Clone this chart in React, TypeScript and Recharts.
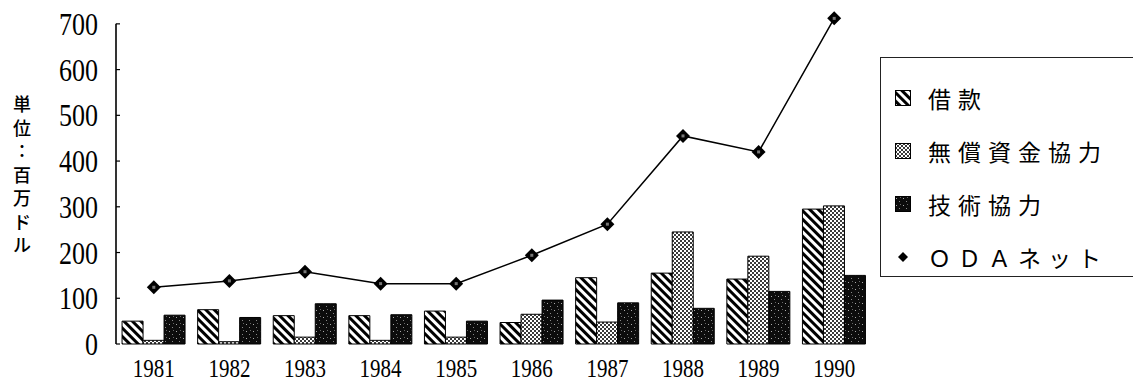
import React from "react"
import { ComposedChart, Bar, Line, XAxis, YAxis, ReferenceLine } from "recharts"

// 年度別 ODA 実績（単位：百万ドル）
const years = ["1981", "1982", "1983", "1984", "1985", "1986", "1987", "1988", "1989", "1990"]
const loans = [50, 75, 62, 62, 72, 47, 145, 155, 142, 295]
const grants = [8, 5, 15, 8, 15, 65, 48, 245, 192, 302]
const techCoop = [63, 58, 88, 64, 50, 96, 90, 78, 115, 150]
const odaNet = [124, 138, 158, 132, 132, 194, 262, 455, 420, 712]
const yTicks = [0, 100, 200, 300, 400, 500, 600, 700]
const unitLabel = ["単", "位", "：", "百", "万", "ド", "ル"]

const series = [
    { key: "loans", name: "借款", fill: "url(#pat-loans)" },
    { key: "grants", name: "無償資金協力", fill: "url(#pat-grants)" },
    { key: "tech", name: "技術協力", fill: "url(#pat-tech)" },
]
const lineName = "ＯＤＡネット"

const data = years.map((year, i) => ({
    year,
    loans: loans[i],
    grants: grants[i],
    tech: techCoop[i],
    oda: odaNet[i],
}))

const serif = "'Liberation Serif', 'DejaVu Serif', serif"
const jp = "'Noto Sans CJK JP', sans-serif"

function Patterns() {
    return (
        <svg width={0} height={0} style={{ position: "absolute" }}>
            <defs>
                <pattern id="pat-loans" width="6" height="6" patternUnits="userSpaceOnUse" patternTransform="rotate(45)">
                    <rect width="6" height="6" fill="#fff" />
                    <rect width="6" height="3" fill="#000" />
                </pattern>
                <pattern id="pat-grants" width="4" height="4" patternUnits="userSpaceOnUse">
                    <rect width="4" height="4" fill="#fff" />
                    <rect x="0" y="0" width="2" height="2" fill="#3a3a3a" />
                    <rect x="2" y="2" width="2" height="2" fill="#3a3a3a" />
                </pattern>
                <pattern id="pat-tech" width="7" height="7" patternUnits="userSpaceOnUse">
                    <rect width="7" height="7" fill="#0c0c0c" />
                    <rect x="1" y="2" width="1" height="1" fill="#aaa" />
                    <rect x="4" y="5" width="1" height="1" fill="#888" />
                    <rect x="5" y="1" width="1" height="1" fill="#666" />
                </pattern>
            </defs>
        </svg>
    )
}

const Diamond = (props: any) => {
    const { cx, cy, index } = props
    if (cx == null || cy == null) return <g key={index} />
    const r = 7
    return (
        <g key={index}>
            <polygon points={`${cx},${cy - r} ${cx + r},${cy} ${cx},${cy + r} ${cx - r},${cy}`} fill="#000" />
            <rect x={cx - 1.5} y={cy - 1.5} width={3} height={3} fill="#777" />
        </g>
    )
}

const YTick = ({ x, y, payload }: any) => (
    <g>
        <line x1={x + 18} x2={x + 22} y1={y} y2={y} stroke="#000" strokeWidth={1.2} />
        <text
            transform={`translate(${x},${y + 11}) scale(1,1.25)`}
            textAnchor="end"
            style={{ fontFamily: serif, fontSize: 26 }}
            fill="#000"
        >
            {payload.value}
        </text>
    </g>
)

const XTick = ({ x, y, payload }: any) => (
    <text
        transform={`translate(${x},${y + 33}) scale(1,1.2)`}
        textAnchor="middle"
        style={{ fontFamily: serif, fontSize: 21 }}
        fill="#000"
    >
        {payload.value}
    </text>
)

function LegendBox() {
    const rows = [
        ...series.map((s) => ({ label: s.name, swatch: <rect x={0.5} y={0.5} width={15} height={15} fill={s.fill} stroke="#000" /> })),
        { label: lineName, swatch: <polygon points="8,3 13,8 8,13 3,8" fill="#000" /> },
    ]
    return (
        <div
            style={{
                position: "absolute",
                left: 880,
                top: 57,
                width: 270,
                height: 220,
                boxSizing: "border-box",
                border: "1px solid #222",
                paddingTop: 13,
                paddingLeft: 14,
                fontFamily: jp,
                fontSize: 23,
                color: "#000",
            }}
        >
            {rows.map((r) => (
                <div key={r.label} style={{ height: 53, display: "flex", alignItems: "center" }}>
                    <svg width={16} height={16}>{r.swatch}</svg>
                    <span style={{ marginLeft: 17, letterSpacing: 7 }}>{r.label}</span>
                </div>
            ))}
        </div>
    )
}

export default function App() {
    return (
        <div style={{ position: "absolute", left: 0, top: 0, width: 1133, height: 384, background: "#fff", overflow: "hidden" }}>
            <Patterns />
            <div
                style={{
                    position: "absolute",
                    left: 12,
                    top: 92,
                    width: 20,
                    display: "flex",
                    flexDirection: "column",
                    alignItems: "center",
                    fontFamily: jp,
                    fontSize: 18,
                    lineHeight: "23.5px",
                    fontWeight: 500,
                }}
            >
                {unitLabel.map((c, i) => (
                    <span key={i}>{c}</span>
                ))}
            </div>
            <ComposedChart
                width={1133}
                height={384}
                data={data}
                margin={{ top: 17, right: 261, bottom: 0, left: 0 }}
                barCategoryGap="8%"
                barGap={0}
            >
                <XAxis dataKey="year" axisLine={false} tickLine={false} tickSize={0} tickMargin={0} height={40} tick={<XTick />} interval={0} />
                <YAxis
                    width={116}
                    domain={[0, 715]}
                    ticks={yTicks}
                    axisLine={false}
                    tickLine={false}
                    tickSize={0}
                    tickMargin={18}
                    tick={<YTick />}
                    interval={0}
                />
                <ReferenceLine
                    segment={[{ x: years[0], y: 0 }, { x: years[0], y: 700 }]}
                    position="start"
                    stroke="#000"
                    strokeWidth={1.6}
                    ifOverflow="visible"
                />
                {series.map((s) => (
                    <Bar key={s.key} dataKey={s.key} name={s.name} fill={s.fill} stroke="#000" strokeWidth={1} isAnimationActive={false} />
                ))}
                <Line
                    type="linear"
                    dataKey="oda"
                    name={lineName}
                    stroke="#000"
                    strokeWidth={1.5}
                    dot={Diamond}
                    activeDot={false}
                    isAnimationActive={false}
                />
            </ComposedChart>
            <LegendBox />
        </div>
    )
}
